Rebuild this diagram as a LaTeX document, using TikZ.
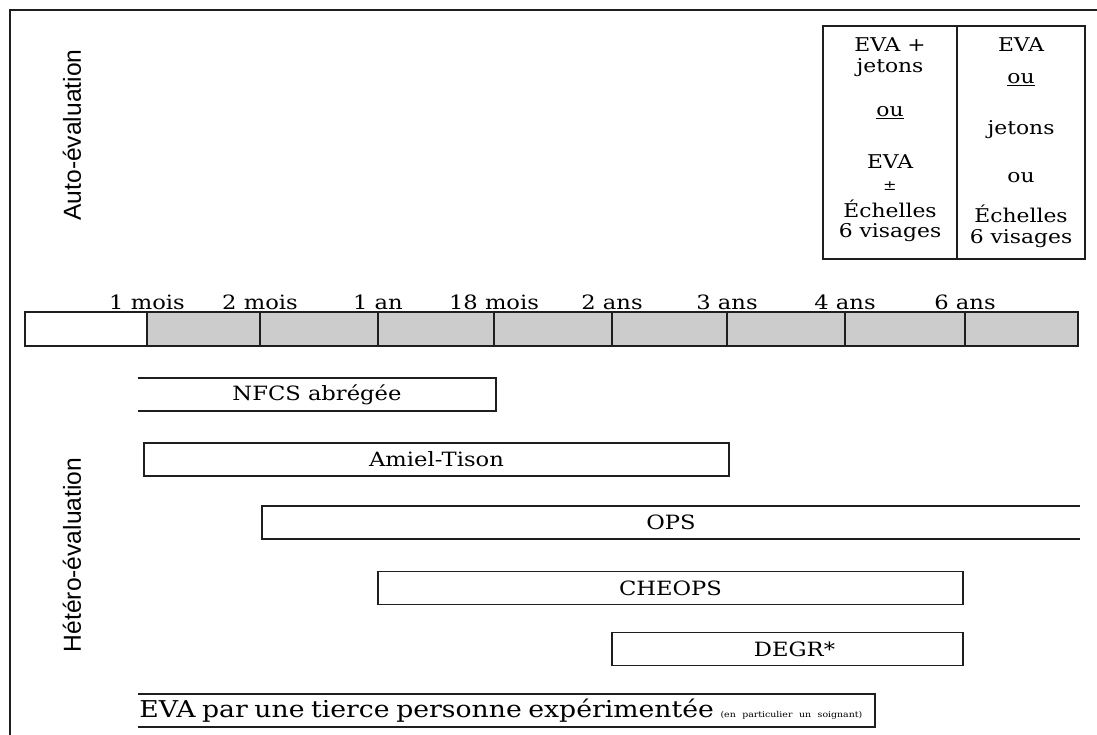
\documentclass[tikz,border=0pt]{standalone}
\usepackage{fontspec}
\setmainfont[FakeStretch=1.15]{DejaVu Serif}
\newfontfamily\sidefont{Liberation Sans}
\usetikzlibrary{positioning}
\definecolor{bargray}{RGB}{204,204,204}
\definecolor{inkgray}{RGB}{30,30,30}
\tikzset{
  frameline/.style={line width=1.3pt, color=inkgray},
  tick/.style={anchor=base, inner sep=0pt, font=\fontsize{14}{16}\selectfont},
  boxcell/.style={rectangle, draw=inkgray, line width=1.3pt, minimum height=5.825cm, inner sep=0pt},
  boxtxt/.style={inner sep=0pt, font=\fontsize{13.5}{15}\selectfont},
  bar/.style={rectangle, minimum height=0.825cm, inner sep=0pt, font=\fontsize{14}{16}\selectfont},
  fullbar/.style={bar, draw=inkgray, line width=1.3pt},
  sidelabel/.style={rotate=90, inner sep=0pt, font=\sidefont\fontsize{17.5}{19}\selectfont}
}

\begin{document}
\begin{tikzpicture}[x=0.025cm, y=-0.025cm]
  \useasboundingbox (0,0) rectangle (1097,735);

  % outer frame
  \coordinate (fbl) at (10,735);
  \coordinate (ftl) at (10,10);
  \coordinate (ftr) at (1097,10);
  \draw[frameline] (fbl) -- (ftl) -- (ftr);

  % side labels
  \node[sidelabel] (auto) at (72,135) {Auto-évaluation};
  \node[sidelabel] (hetero) at (72,555) {Hétéro-évaluation};

  % self-assessment box
  \node[boxcell, minimum width=3.35cm] (lcell) at (890,142.5) {};
  \node[boxcell, minimum width=3.2cm] (rcell) at (1021,142.5) {};
  \foreach \y/\t [count=\i] in {45/EVA +, 68/jetons, 113/\underline{ou}, 162/EVA,
      186/{\fontsize{10}{11}\selectfont ±}, 209/Échelles, 233/6 visages}
    \node[boxtxt] (l\i) at (890,\y) {\t};
  \foreach \y/\t [count=\i] in {45/EVA, 80/\underline{ou}, 130/jetons, 178/ou,
      214/Échelles, 239/6 visages}
    \node[boxtxt] (r\i) at (1021,\y) {\t};

  % age scale
  \fill[bargray] (147,312) rectangle (1078,346);
  \draw[frameline] (25,312) rectangle (1078,346);
  \foreach \x/\t [count=\i] in {147/1 mois, 260/2 mois, 378/1 an, 494/18 mois,
      612/2 ans, 727/3 ans, 845/4 ans, 965/6 ans} {
    \draw[frameline] (\x,312) -- (\x,346);
    \node[tick] (t\i) at (\x,309) {\t};
  }

  % observer scales
  \node[bar, minimum width=8.95cm] (nfcs) at (317,394.5) {NFCS abrégée};
  \node[fullbar, minimum width=14.625cm] (amiel) at (436.5,459.5) {Amiel-Tison};
  \node[bar, minimum width=20.45cm] (ops) at (671,522.5) {OPS};
  \node[fullbar, minimum width=14.625cm] (cheops) at (670.5,588) {CHEOPS};
  \node[fullbar, minimum width=8.775cm] (degr) at (787.5,649) {\hspace{0.35cm}DEGR*};
  \node[bar, minimum width=18.425cm, text width=18.35cm, align=left] (eva) at (506.5,710.5)
    {\fontsize{16.5}{18}\selectfont EVA par une tierce personne expérimentée
     {\fontsize{5.8}{7}\selectfont(en particulier un soignant)}};

  \draw[frameline] (nfcs.north west) -- (nfcs.north east) -- (nfcs.south east) -- (nfcs.south west);
  \draw[frameline] (ops.north east) -- (ops.north west) -- (ops.south west) -- (ops.south east);
  \draw[frameline] (eva.north west) -- (eva.north east) -- (eva.south east) -- (eva.south west);
\end{tikzpicture}
\end{document}
